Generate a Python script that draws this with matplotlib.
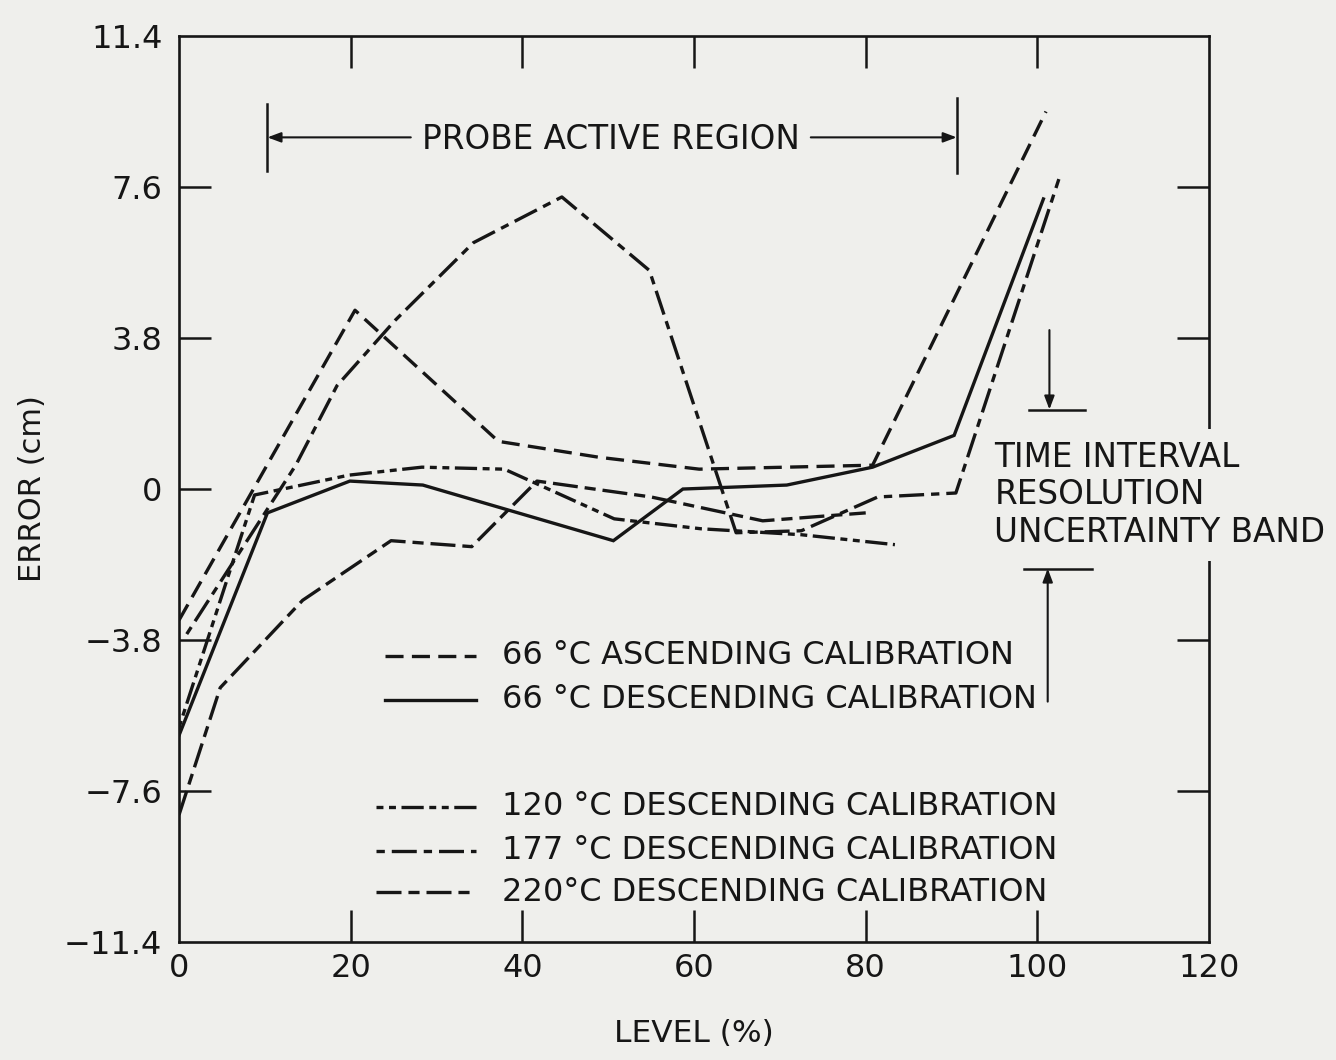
import matplotlib
matplotlib.use("Agg")
import matplotlib.pyplot as plt

plt.rcParams['font.family'] = ['DejaVu Sans']
plt.rcParams['lines.scale_dashes'] = False

# ---- calibration error curves: level (%) vs error (cm) ----
level_66_asc = [0.0, 20.5, 37.2, 48.9, 60.6, 80.8, 101.0]
error_66_asc = [-3.3, 4.5, 1.2, 0.8, 0.5, 0.6, 9.5]

level_66_desc = [0.0, 10.3, 19.9, 28.4, 50.6, 58.7, 70.8, 80.8, 90.3, 100.7]
error_66_desc = [-6.2, -0.6, 0.2, 0.1, -1.3, 0.0, 0.1, 0.55, 1.35, 7.3]

level_120_desc = [0.0, 8.8, 19.8, 28.3, 37.9, 50.7, 60.8, 72.5, 83.4]
error_120_desc = [-6.0, -0.15, 0.35, 0.55, 0.5, -0.75, -1.0, -1.15, -1.4]

level_177_desc = [0.9, 13.6, 18.4, 25.2, 34.3, 44.6, 54.8, 64.9, 72.5, 81.4, 90.5, 102.5]
error_177_desc = [-3.65, 0.6, 2.6, 4.25, 6.2, 7.35, 5.5, -1.1, -1.05, -0.2, -0.1, 7.8]

level_220_desc = [0.0, 4.8, 14.4, 24.7, 34.1, 41.7, 55.0, 68.0, 80.0]
error_220_desc = [-8.2, -5.0, -2.8, -1.3, -1.45, 0.2, -0.2, -0.8, -0.6]

legend_labels = ["66 °C ASCENDING CALIBRATION",
                 "66 °C DESCENDING CALIBRATION",
                 "120 °C DESCENDING CALIBRATION",
                 "177 °C DESCENDING CALIBRATION",
                 "220°C DESCENDING CALIBRATION"]

x_ticks = [0, 20, 40, 60, 80, 100, 120]
y_ticks = [11.4, 7.6, 3.8, 0, -3.8, -7.6, -11.4]
y_tick_labels = ["11.4", "7.6", "3.8", "0", "−3.8", "−7.6", "−11.4"]

ink = "#161616"
paper = "#efefec"

styles = [
    dict(dashes=(13, 6)),
    dict(linestyle="-"),
    dict(dashes=(5, 4, 5, 4, 16, 4)),
    dict(dashes=(6, 5, 18, 5)),
    dict(dashes=(18, 5, 8, 5)),
]
series = [
    (level_66_asc, error_66_asc),
    (level_66_desc, error_66_desc),
    (level_120_desc, error_120_desc),
    (level_177_desc, error_177_desc),
    (level_220_desc, error_220_desc),
]

fig = plt.figure(figsize=(13.36, 10.60), dpi=100, facecolor=paper)
ax = fig.add_axes([0.134, 0.1113, 0.771, 0.8547], facecolor=paper)
ax.set_xlim(0, 120)
ax.set_ylim(-11.4, 11.4)

for (lx, ey), st in zip(series, styles):
    ax.plot(lx, ey, color=ink, lw=2.4, solid_joinstyle="miter",
            dash_capstyle="butt", **st)

# legend drawn as sample segments with labels
legend_y = [-4.2, -5.3, -8.0, -9.1, -10.15]
for yy, st, lab in zip(legend_y, styles, legend_labels):
    x0 = 24.0 if yy > -6 else 23.0
    ax.plot([x0, 34.6], [yy, yy], color=ink, lw=2.4, **st)
    ax.text(37.6, yy, lab, fontsize=23, color=ink, va="center", ha="left")

# probe active region bracket
ax.plot([10.3, 10.3], [8.0, 9.7], color=ink, lw=1.8)
ax.plot([90.6, 90.6], [7.95, 9.85], color=ink, lw=1.8)
ax.annotate("", xy=(10.3, 8.85), xytext=(27.0, 8.85),
            arrowprops=dict(arrowstyle="-|>,head_length=0.8,head_width=0.3",
                            color=ink, lw=1.5, shrinkA=0, shrinkB=0))
ax.annotate("", xy=(90.6, 8.85), xytext=(73.6, 8.85),
            arrowprops=dict(arrowstyle="-|>,head_length=0.8,head_width=0.3",
                            color=ink, lw=1.5, shrinkA=0, shrinkB=0))
ax.text(50.3, 8.8, "PROBE ACTIVE REGION", fontsize=23.5, color=ink,
        ha="center", va="center")

# time interval resolution uncertainty band
ax.plot([99.0, 105.6], [2.0, 2.0], color=ink, lw=1.8)
ax.plot([98.4, 106.4], [-2.0, -2.0], color=ink, lw=1.8)
ax.annotate("", xy=(101.4, 2.0), xytext=(101.4, 4.0),
            arrowprops=dict(arrowstyle="-|>,head_length=0.8,head_width=0.3",
                            color=ink, lw=1.5, shrinkA=0, shrinkB=0))
ax.annotate("", xy=(101.2, -2.0), xytext=(101.2, -5.35),
            arrowprops=dict(arrowstyle="-|>,head_length=0.8,head_width=0.3",
                            color=ink, lw=1.5, shrinkA=0, shrinkB=0))
ax.text(95.0, -0.15, "TIME INTERVAL\nRESOLUTION\nUNCERTAINTY BAND",
        fontsize=23.5, color=ink, ha="left", va="center", linespacing=1.18,
        clip_on=False, zorder=5,
        bbox=dict(boxstyle="square,pad=0.35", fc=paper, ec="none"))

# frame, ticks and labels
for sp in ax.spines.values():
    sp.set_linewidth(1.9)
    sp.set_color(ink)
ax.set_xticks(x_ticks)
ax.set_xticklabels([str(v) for v in x_ticks])
ax.set_yticks(y_ticks)
ax.set_yticklabels(y_tick_labels)
ax.tick_params(axis="both", direction="in", length=23, width=1.8, color=ink,
               labelsize=23, labelcolor=ink, top=True, right=True)
ax.tick_params(axis="x", pad=8)
ax.tick_params(axis="y", pad=12)
# corner ticks sit on the frame itself; hide them
for t in (ax.yaxis.get_major_ticks()[0], ax.yaxis.get_major_ticks()[-1],
          ax.xaxis.get_major_ticks()[0], ax.xaxis.get_major_ticks()[-1]):
    t.tick1line.set_visible(False)
    t.tick2line.set_visible(False)
ax.set_xlabel("LEVEL (%)", fontsize=22.5, color=ink, labelpad=25)
ax.set_ylabel("ERROR (cm)", fontsize=22, color=ink, labelpad=12)

fig.savefig("out.png", dpi=100, facecolor=paper)
